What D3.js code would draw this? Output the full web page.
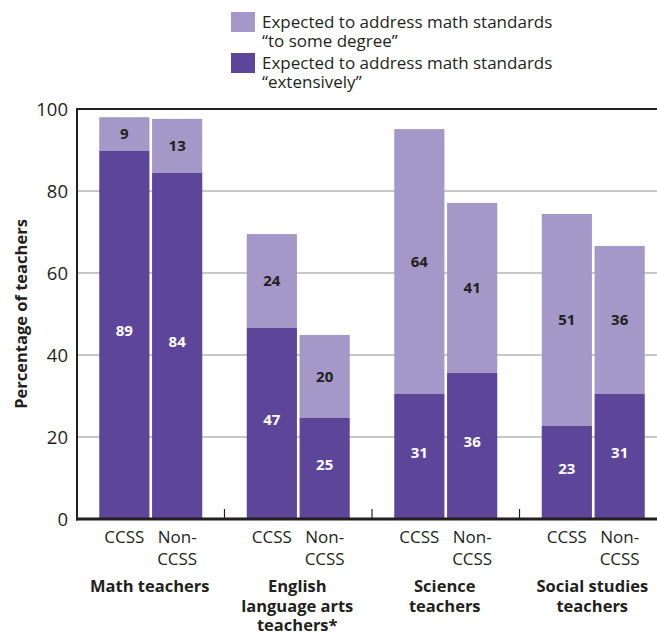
<!DOCTYPE html>
<html><head><meta charset="utf-8">
<script src="https://cdn.jsdelivr.net/npm/d3@7"></script>
<style>body{margin:0;background:#fff}svg{display:block}text{font-family:"Open Sans",sans-serif;fill:#231f20}</style>
</head><body><svg id="c" width="657" height="635"></svg>
<script>
const groups = [["Math teachers"],["English","language arts","teachers*"],["Science","teachers"],["Social studies","teachers"]];
const subs = ["CCSS","Non-CCSS"];
// bar heights (order: group, sub)
const extensive = [89.8, 84.4, 46.6, 24.7, 30.5, 35.6, 22.7, 30.5];
const someDegree = [8.2, 13.2, 22.9, 20.2, 64.6, 41.5, 51.7, 36.1];
// printed labels
const extensiveLabels = ["89","84","47","25","31","36","23","31"];
const someLabels = ["9","13","24","20","64","41","51","36"];
const yTicks = [0,20,40,60,80,100];
const legendItems = [["Expected to address math standards","\u201cto some degree\u201d"],["Expected to address math standards","\u201cextensively\u201d"]];

const light = "#a498c8", dark = "#5d4599";
const svg = d3.select("#c");
const x0 = 77, x1 = 667, yTop = 109, yBot = 519;
const y = d3.scaleLinear().domain([0,100]).range([yBot, yTop]);
const xg = d3.scaleBand().domain(d3.range(groups.length)).range([x0, x1]);
const xs = d3.scaleBand().domain(subs).range([0, 103]).paddingInner(0.05);
const gOff = (xg.bandwidth() - 103) / 2;

// gridlines
svg.append("g").selectAll("line").data(yTicks.filter(t => t>0 && t<100)).join("line")
  .attr("x1", x0).attr("x2", 657).attr("y1", d=>y(d)).attr("y2", d=>y(d))
  .attr("stroke", "#b5b5b5").attr("stroke-width", 1.5);
svg.append("line").attr("x1", x0).attr("x2", 657).attr("y1", y(100)).attr("y2", y(100))
  .attr("stroke", "#231f20").attr("stroke-width", 2);

// y tick labels
svg.append("g").selectAll("text").data(yTicks).join("text")
  .attr("x", 68).attr("y", d=>y(d)).attr("dy", "0.36em").attr("text-anchor","end")
  .attr("font-size", 18.5).text(d=>d);

svg.append("text").attr("transform", `translate(21,${(yTop+yBot)/2}) rotate(-90)`)
  .attr("text-anchor","middle").attr("dy","0.35em").attr("font-size",16.5).attr("font-weight","bold")
  .text("Percentage of teachers");

// bars
const data = [];
groups.forEach((g,gi)=>subs.forEach((s,si)=>{
  const i = gi*2+si;
  data.push({gi, s, ext: extensive[i], some: someDegree[i], el: extensiveLabels[i], sl: someLabels[i]});
}));
const bx = d => xg(d.gi) + gOff + xs(d.s);
const bars = svg.append("g").selectAll("g").data(data).join("g");
bars.append("rect").attr("x", bx).attr("width", xs.bandwidth())
  .attr("y", d=>y(d.ext+d.some)).attr("height", d=>y(d.ext)-y(d.ext+d.some)).attr("fill", light);
bars.append("rect").attr("x", bx).attr("width", xs.bandwidth())
  .attr("y", d=>y(d.ext)).attr("height", d=>y(0)-y(d.ext)).attr("fill", dark);
bars.append("text").attr("x", d=>bx(d)+xs.bandwidth()/2).attr("y", d=>(y(d.ext)+y(d.ext+d.some))/2)
  .attr("dy","0.36em").attr("text-anchor","middle").attr("font-size",15).attr("font-weight","bold")
  .text(d=>d.sl);
bars.append("text").attr("x", d=>bx(d)+xs.bandwidth()/2).attr("y", d=>(y(0)+y(d.ext))/2 - 4)
  .attr("dy","0.36em").attr("text-anchor","middle").attr("font-size",15).attr("font-weight","bold")
  .style("fill","#fff").text(d=>d.el);

// axes lines
svg.append("line").attr("x1", x0).attr("x2", x0).attr("y1", yTop-1).attr("y2", yBot+1.5)
  .attr("stroke","#231f20").attr("stroke-width",2);
svg.append("line").attr("x1", x0-1).attr("x2", 657).attr("y1", yBot).attr("y2", yBot)
  .attr("stroke","#231f20").attr("stroke-width",3);
svg.append("g").selectAll("line").data(d3.range(1, groups.length)).join("line")
  .attr("x1", d=>xg(d)).attr("x2", d=>xg(d)).attr("y1", yBot-10).attr("y2", yBot)
  .attr("stroke","#231f20").attr("stroke-width",1.2);

// sub labels
data.forEach(d=>{
  const t = svg.append("text").attr("x", bx(d)+xs.bandwidth()/2).attr("text-anchor","middle").attr("font-size",17);
  const parts = d.s === "CCSS" ? ["CCSS"] : ["Non-","CCSS"];
  parts.forEach((p,k)=>t.append("tspan").attr("x", bx(d)+xs.bandwidth()/2).attr("y", 543 + k*22).text(p));
});
// group labels
groups.forEach((g,gi)=>{
  const cx = xg(gi)+xg.bandwidth()/2 - 1;
  const t = svg.append("text").attr("text-anchor","middle").attr("font-size",16.5).attr("font-weight","bold");
  g.forEach((line,k)=>t.append("tspan").attr("x", cx).attr("y", 592 + k*19.5).text(line));
});

// legend
legendItems.forEach((item,i)=>{
  const ly = 12 + i*41;
  svg.append("rect").attr("x",231).attr("y",ly).attr("width",24).attr("height",20).attr("fill", i===0?light:dark);
  const t = svg.append("text").attr("font-size",17);
  item.forEach((line,k)=>t.append("tspan").attr("x",262).attr("y", ly+16 + k*19).text(line));
});
</script></body></html>
